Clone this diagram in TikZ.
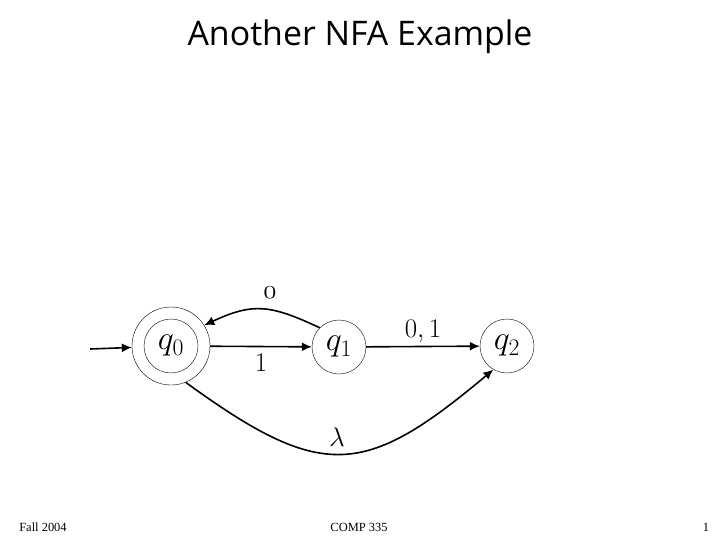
\RequirePackage{fix-cm}
\documentclass[tikz,border=0pt]{standalone}
\usepackage{fontspec}
\setmainfont{Liberation Serif}
\setsansfont{Open Sans}
\usepackage{amsmath}
\usetikzlibrary{arrows.meta}

\begin{document}
\begin{tikzpicture}[x=1bp,y=-1bp]
		\tikzset{state/.style={draw,circle,thin,minimum size=54bp,inner sep=0pt,font=\fontsize{34}{34}\selectfont},
		trans/.style={-{Latex[length=10bp,width=9bp]},line width=1.6bp},
		lab/.style={font=\fontsize{27}{27}\selectfont},
		foot/.style={font=\fontsize{12.5}{12.5}\selectfont}}
		\useasboundingbox (0,0) rectangle (720,540);
		\node (title) at (360,37) {\sffamily\fontsize{34}{34}\selectfont Another NFA Example};
		
		\node (0) at (171,346) [state,minimum size=78bp] {$q_0$};
		\node (0in) at (171,346) [state] {};
		\node (1) at (339,347) [state] {$q_1$};
		\node (2) at (507,346) [state] {$q_2$};
		\coordinate (start) at (90,349);
		
		\path
		(start) edge [trans] (0)
		(0) edge [trans] node [lab,below=4bp] {$1$} (1)
		(1) edge [trans] node [lab,above=0bp] {$0,1$} (2);
		
		%Arcos
		\draw[trans] (1.135) to[out=155,in=25,looseness=1.2] node [lab,above=7bp,xshift=8bp] {\fontencoding{OML}\fontfamily{cmm}\fontshape{it}\selectfont 0} (0.32);
		\draw[trans] (0.-68) to[out=-36,in=-140,looseness=1.4] node [lab,pos=0.48,above=3bp] {$\lambda$} (2.-120);
		
		%Pie
		\node (fall) at (43,527) [foot] {Fall 2004};
		\node (comp) at (359,527) [foot] {COMP 335};
		\node (page) at (706,527) [foot] {1};
	\end{tikzpicture}
\end{document}
